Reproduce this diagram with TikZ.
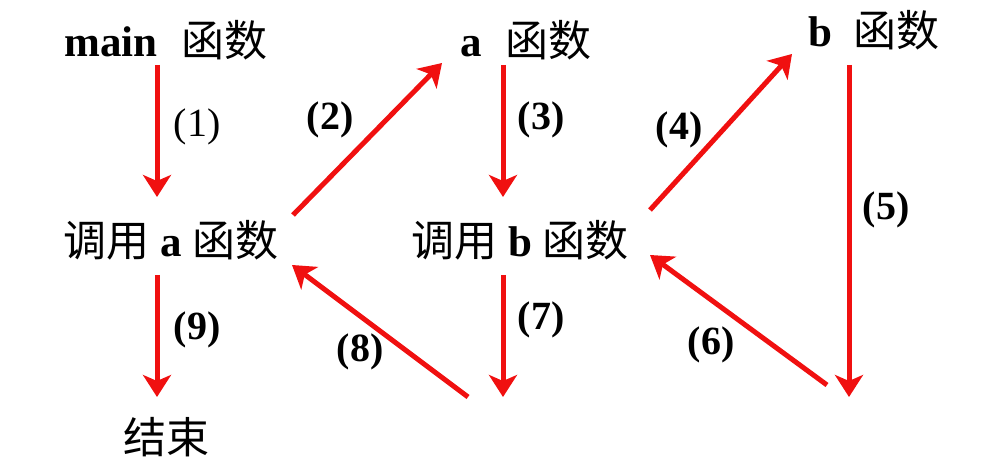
\documentclass[tikz,border=0pt]{standalone}
\usepackage{fontspec}
\setmainfont{Liberation Serif}
\newfontfamily\cjk{Noto Sans CJK SC}
\usepackage{xcolor}
\usepackage{tikz}
\usetikzlibrary{positioning,arrows.meta}
\definecolor{callred}{HTML}{F01010}
\newcommand{\hz}[1]{{\cjk\mdseries #1}}

\begin{document}
\begin{tikzpicture}[
  x=1pt, y=-1pt,
  fn/.style={inner sep=0pt, font=\fontsize{43}{47}\selectfont\bfseries},
  num/.style={inner sep=0pt, font=\fontsize{40}{44}\selectfont\bfseries},
  arr/.style={-{Stealth[length=22pt,width=28pt,inset=6pt]}, line width=5pt, color=callred}
]
  \useasboundingbox (0,0) rectangle (990,470);

  % Functions
  \node[fn] (main) at (166,40) {main\hspace{0.55em}\hz{函数}};
  \node[fn] (afn) at (526,40) {a\hspace{0.55em}\hz{函数}};
  \node[fn] (bfn) at (874,30) {b\hspace{0.5em}\hz{函数}};
  \node[fn] (calla) at (171,240) {\hz{调用} a \hz{函数}};
  \node[fn] (callb) at (520,240) {\hz{调用} b \hz{函数}};
  \node[fn] (stop) at (166,437) {\hz{结束}};

  % Arrow ends
  \coordinate (s1) at (157,65);   \coordinate (e1) at (157,197);
  \coordinate (s2) at (293,215);  \coordinate (e2) at (442,63);
  \coordinate (s3) at (503,65);   \coordinate (e3) at (503,197);
  \coordinate (s4) at (650,210);  \coordinate (e4) at (792,54);
  \coordinate (s5) at (849,65);   \coordinate (e5) at (849,397);
  \coordinate (s6) at (827,385);  \coordinate (e6) at (650,255);
  \coordinate (s7) at (503,275);  \coordinate (e7) at (503,397);
  \coordinate (s8) at (468,397);  \coordinate (e8) at (292,265);
  \coordinate (s9) at (157,275);  \coordinate (e9) at (157,397);

  % Arrows
  \draw[arr] (s1) -- (e1);
  \draw[arr] (s2) -- (e2);
  \draw[arr] (s3) -- (e3);
  \draw[arr] (s4) -- (e4);
  \draw[arr] (s5) -- (e5);
  \draw[arr] (s6) -- (e6);
  \draw[arr] (s7) -- (e7);
  \draw[arr] (s8) -- (e8);
  \draw[arr] (s9) -- (e9);

  % Step numbers
  \node[num, font=\fontsize{40}{44}\selectfont] (n1) at (197,127) {(1)};
  \node[num] (n2) at (330,120) {(2)};
  \node[num] (n3) at (541,120) {(3)};
  \node[num] (n4) at (679,130) {(4)};
  \node[num] (n5) at (886,210) {(5)};
  \node[num] (n6) at (711,345) {(6)};
  \node[num] (n7) at (541,320) {(7)};
  \node[num] (n8) at (360,352) {(8)};
  \node[num] (n9) at (197,330) {(9)};
\end{tikzpicture}
\end{document}
